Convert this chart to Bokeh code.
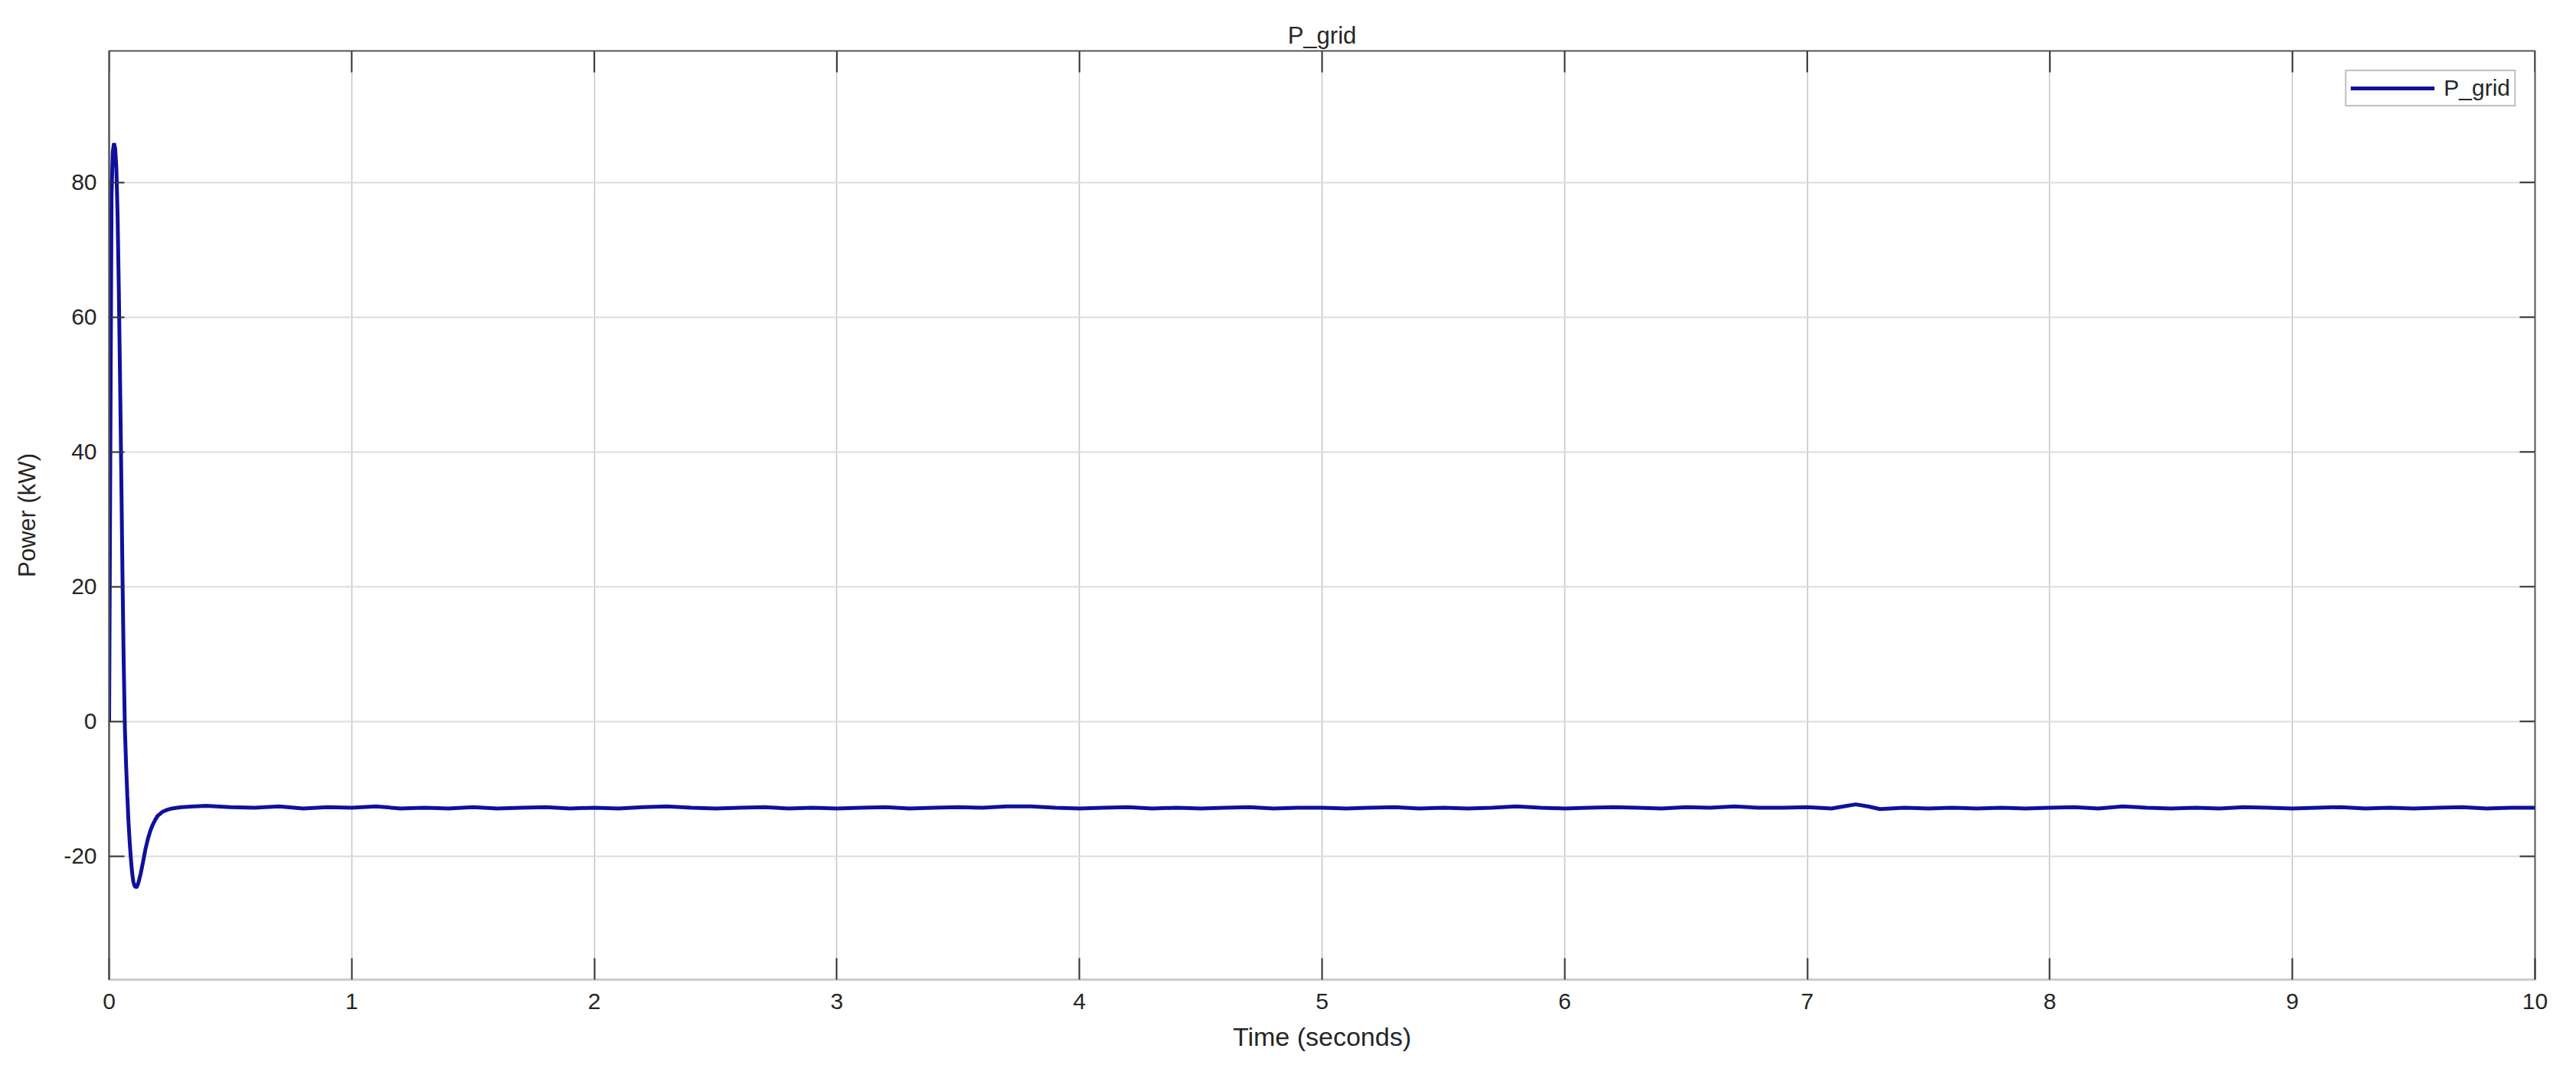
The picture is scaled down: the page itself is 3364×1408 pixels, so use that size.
import math
from bokeh.plotting import figure
from bokeh.models import Range1d, FixedTicker
from bokeh.embed import file_html
from bokeh.resources import INLINE

# ---- data ----
time_s = [0.0, 0.005, 0.01, 0.015, 0.02, 0.025, 0.03, 0.035, 0.04, 0.045, 0.05, 0.055,
          0.06, 0.065, 0.07, 0.075, 0.08, 0.085, 0.09, 0.095, 0.10, 0.105, 0.11, 0.115,
          0.12, 0.13, 0.14, 0.15, 0.16, 0.17, 0.18, 0.19, 0.20, 0.22, 0.24, 0.26, 0.28,
          0.30, 0.35,
          0.4, 0.5, 0.6, 0.7, 0.8, 0.9, 1.0, 1.1, 1.2, 1.3, 1.4, 1.5, 1.6, 1.7, 1.8, 1.9,
          2.0, 2.1, 2.2, 2.3, 2.4, 2.5, 2.6, 2.7, 2.8, 2.9, 3.0, 3.1, 3.2, 3.3, 3.4, 3.5,
          3.6, 3.7, 3.8, 3.9, 4.0, 4.1, 4.2, 4.3, 4.4, 4.5, 4.6, 4.7, 4.8, 4.9, 5.0, 5.1,
          5.2, 5.3, 5.4, 5.5, 5.6, 5.7, 5.8, 5.9, 6.0, 6.1, 6.2, 6.3, 6.4, 6.5, 6.6, 6.7,
          6.8, 6.9, 7.0, 7.1, 7.15, 7.2, 7.25, 7.3, 7.4, 7.5, 7.6, 7.7, 7.8, 7.9, 8.0, 8.1,
          8.2, 8.3, 8.4, 8.5, 8.6, 8.7, 8.8, 8.9, 9.0, 9.1, 9.2, 9.3, 9.4, 9.5, 9.6, 9.7,
          9.8, 9.9, 10.0]
p_grid_kw = [0.0, 40.0, 78.0, 84.5, 85.8, 85.0, 82.0, 75.0, 64.0, 51.0, 37.0, 22.0,
             9.0, -1.0, -6.5, -11.0, -15.0, -18.0, -20.5, -22.5, -23.8, -24.4, -24.6, -24.5,
             -24.0, -22.6, -20.8, -18.9, -17.4, -16.2, -15.3, -14.6, -14.0, -13.4, -13.1, -12.9, -12.8,
             -12.7, -12.6,
             -12.5, -12.7, -12.8, -12.6, -12.9, -12.7, -12.8, -12.6, -12.9, -12.8, -12.9, -12.7, -12.9, -12.8, -12.7, -12.9,
             -12.8, -12.9, -12.7, -12.6, -12.8, -12.9, -12.8, -12.7, -12.9, -12.8, -12.9, -12.8, -12.7, -12.9, -12.8, -12.7,
             -12.8, -12.6, -12.6, -12.8, -12.9, -12.8, -12.7, -12.9, -12.8, -12.9, -12.8, -12.7, -12.9, -12.8, -12.8, -12.9,
             -12.8, -12.7, -12.9, -12.8, -12.9, -12.8, -12.6, -12.8, -12.9, -12.8, -12.7, -12.8, -12.9, -12.7, -12.8, -12.6,
             -12.8, -12.8, -12.7, -12.9, -12.6, -12.3, -12.6, -13.0, -12.8, -12.9, -12.8, -12.9, -12.8, -12.9, -12.8, -12.7,
             -12.9, -12.6, -12.8, -12.9, -12.8, -12.9, -12.7, -12.8, -12.9, -12.8, -12.7, -12.9, -12.8, -12.9, -12.8, -12.7,
             -12.9, -12.8, -12.8]
x_ticks = [0, 1, 2, 3, 4, 5, 6, 7, 8, 9, 10]
y_ticks = [-20, 0, 20, 40, 60, 80]
y_tick_labels = ["-20", "0", "20", "40", "60", "80"]
x_lim = (0, 10)
y_lim = (-38.3, 99.5)

FONT = "Liberation Sans"
TXT = "#262626"
TICK = "#333333"

p = figure(width=3348, height=1392, output_backend="svg", toolbar_location=None,
           x_range=Range1d(*x_lim), y_range=Range1d(*y_lim),
           min_border_left=142, min_border_right=38, min_border_top=66, min_border_bottom=113)
p.background_fill_color = "white"
p.border_fill_color = "white"
p.outline_line_color = "#555555"
p.outline_line_width = 2

p.title.text = "P_grid"
p.title.align = "center"
p.title.text_font = FONT
p.title.text_font_size = "31px"
p.title.text_font_style = "normal"
p.title.text_color = TXT
p.title.standoff = 5

# grids
p.xgrid.ticker = FixedTicker(ticks=x_ticks)
p.ygrid.ticker = FixedTicker(ticks=y_ticks)
p.xgrid.grid_line_color = "#c4c4c4"
p.xgrid.grid_line_width = 1.5
p.ygrid.grid_line_color = "#dcdcdc"
p.ygrid.grid_line_width = 2

# MATLAB-style inner ticks on the top and right edges (clipped to the frame)
p.scatter(x=x_ticks, y=[y_lim[1]] * len(x_ticks), marker="dash", size=56,
          angle=math.pi / 2, line_color=TICK, line_width=2, fill_color=None)
p.scatter(x=[x_lim[1]] * len(y_ticks), y=y_ticks, marker="dash", size=40,
          line_color=TICK, line_width=2, fill_color=None)

p.line(time_s, p_grid_kw, line_color="#10109c", line_width=5, legend_label="P_grid")

# axes
xa = p.xaxis[0]
xa.ticker = FixedTicker(ticks=x_ticks)
xa.axis_label = "Time (seconds)"
ya = p.yaxis[0]
ya.ticker = FixedTicker(ticks=y_ticks)
ya.major_label_overrides = {t: s for t, s in zip(y_ticks, y_tick_labels)}
ya.axis_label = "Power (kW)"

for ax in (xa, ya):
    ax.major_label_text_font = FONT
    ax.major_label_text_font_size = "30px"
    ax.major_label_text_color = TXT
    ax.axis_label_text_font = FONT
    ax.axis_label_text_font_style = "normal"
    ax.axis_label_text_color = TXT
    ax.major_tick_out = 0
    ax.major_tick_line_color = TICK
    ax.major_tick_line_width = 2
    ax.minor_tick_line_color = None

xa.axis_label_text_font_size = "34px"
ya.axis_label_text_font_size = "31px"

xa.major_tick_in = 28
xa.axis_line_color = "#cccccc"
xa.axis_line_width = 3
xa.major_label_standoff = 18
xa.axis_label_standoff = 14
ya.major_tick_in = 20
ya.axis_line_color = "#555555"
ya.axis_line_width = 2
ya.major_label_standoff = 16
ya.axis_label_standoff = 27

# legend
lg = p.legend[0]
lg.location = "top_right"
lg.margin = 25
lg.padding = 5
lg.spacing = 0
lg.glyph_width = 110
lg.glyph_height = 20
lg.label_height = 30
lg.label_standoff = 12
lg.label_text_font = FONT
lg.label_text_font_size = "30px"
lg.label_text_color = TXT
lg.border_line_color = "#808080"
lg.border_line_width = 2
lg.background_fill_color = "white"
lg.background_fill_alpha = 1.0

open("out.html", "w").write(file_html(p, INLINE))
